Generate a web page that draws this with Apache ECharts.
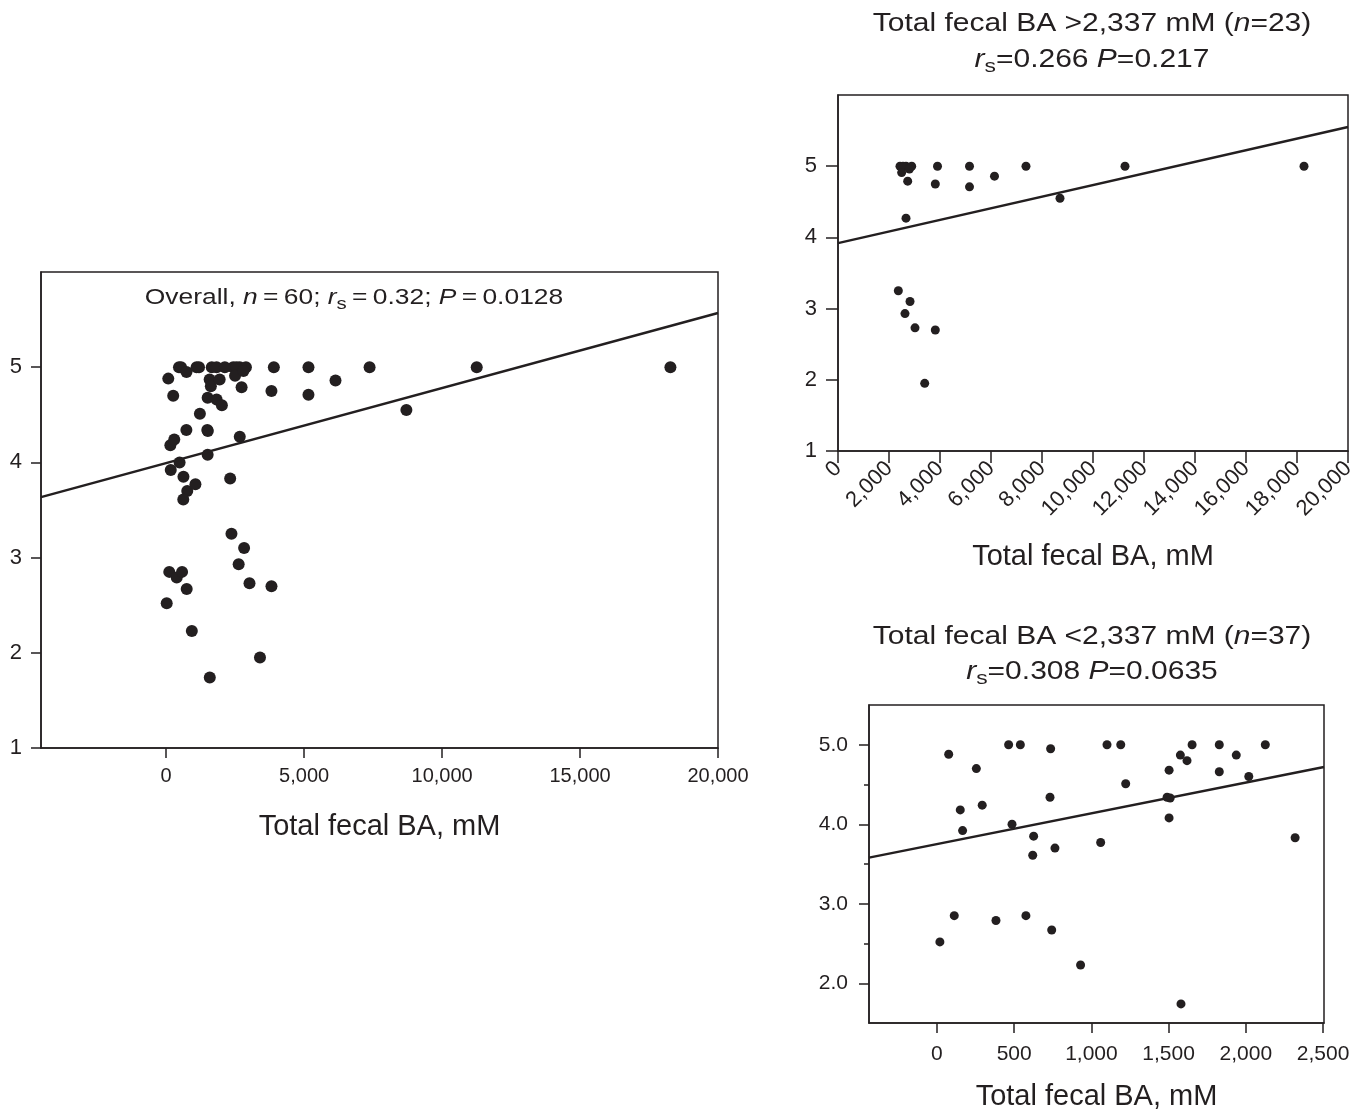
<!DOCTYPE html>
<html>
<head>
<meta charset="utf-8">
<script src="https://cdn.jsdelivr.net/npm/echarts@6/dist/echarts.min.js"></script>
<style>
  html, body { margin: 0; padding: 0; background: #fff; }
  #container { width: 1370px; height: 1115px; }
</style>
</head>
<body>
<div id="container"></div>
<script>
// fecal BA > 2,337 mM (n = 23)
var highX = [2431, 2667, 2890, 2550, 2497, 2733, 3902, 5157, 6137, 7372, 3816, 5157, 8706, 2667, 11255, 18275, 2366, 2824, 2627, 3020, 3816, 3400, 2800];
var highY = [5.0, 5.0, 5.0, 5.0, 4.91, 4.79, 5.0, 5.0, 4.86, 5.0, 4.75, 4.71, 4.55, 4.27, 5.0, 5.0, 3.25, 3.10, 2.93, 2.73, 2.70, 1.95, 4.96];
// fecal BA < 2,337 mM (n = 37)
var lowX = [76, 255, 464, 540, 736, 151, 293, 732, 166, 486, 626, 764, 620, 1101, 1190, 1652, 1828, 2126, 1576, 1619, 1938, 1222, 1503, 1828, 2019, 1490, 1503, 1060, 2319, 112, 19, 382, 576, 743, 930, 1580, 1510];
var lowY = [4.88, 4.70, 5.0, 5.0, 4.95, 4.18, 4.24, 4.34, 3.92, 4.0, 3.85, 3.70, 3.61, 5.0, 5.0, 5.0, 5.0, 5.0, 4.87, 4.80, 4.87, 4.51, 4.68, 4.66, 4.60, 4.34, 4.08, 3.77, 3.83, 2.85, 2.52, 2.79, 2.85, 2.67, 2.23, 1.74, 4.33];

// fitted lines, [x, y] at both ends of each panel
var fitAll = [[-4537, 3.635], [20000, 5.57]];
var fitHigh = [[0, 3.92], [20000, 5.55]];
var fitLow = [[-440, 3.58], [2506, 4.72]];

var ticksAllX = [0, 5000, 10000, 15000, 20000];
var ticksY = [1, 2, 3, 4, 5];
var ticksLowX = [0, 500, 1000, 1500, 2000, 2500];
var ticksLowY = [2, 3, 4, 5];
var minorLowY = [2.5, 3.5, 4.5];

var allX = highX.concat(lowX);
var allY = highY.concat(lowY);

function pairs(xs, ys) {
    return xs.map(function (x, i) { return [x, ys[i]]; });
}

var ink = '#231f20';
var font = '"Liberation Sans", Arial, sans-serif';

var dom = document.getElementById('container');
var chart = echarts.init(dom, null, { renderer: 'canvas' });

function thousands(v) {
    return echarts.format.addCommas(v);
}

function xAxisOf(idx, min, max, ticks, o) {
    var ax = {
        gridIndex: idx,
        type: 'value',
        min: min,
        max: max,
        name: 'Total fecal BA, mM',
        nameLocation: 'middle',
        nameGap: o.gap,
        nameTextStyle: { color: ink, fontSize: 29, fontFamily: font },
        axisLine: { show: true, onZero: false, lineStyle: { color: ink, width: 1.5 } },
        axisTick: { show: true, inside: false, length: o.tick, lineStyle: { color: ink, width: 1.5 } },
        axisLabel: { color: ink, fontSize: o.size, fontFamily: font, margin: o.margin, rotate: o.rotate || 0, formatter: thousands },
        splitLine: { show: false }
    };
    if (o.interval) {
        ax.interval = o.interval;
    } else {
        ax.axisTick.customValues = ticks;
        ax.axisLabel.customValues = ticks;
    }
    return ax;
}

function yAxisOf(idx, min, max, ticks, o) {
    return {
        gridIndex: idx,
        type: 'value',
        position: 'left',
        min: min,
        max: max,
        axisLine: { show: true, onZero: false, lineStyle: { color: ink, width: 1.5 } },
        axisTick: { show: true, inside: false, length: o.tick, customValues: ticks, lineStyle: { color: ink, width: 1.5 } },
        axisLabel: {
            color: ink, fontSize: o.size, fontFamily: font, margin: o.margin, customValues: ticks,
            formatter: o.fmt
        },
        splitLine: { show: false }
    };
}

function dots(idx, data, size) {
    return {
        type: 'scatter',
        xAxisIndex: idx,
        yAxisIndex: idx,
        data: data,
        symbolSize: size,
        itemStyle: { color: ink, opacity: 1 },
        silent: true,
        z: 3
    };
}

function fit(idx, data) {
    return {
        type: 'line',
        xAxisIndex: idx,
        yAxisIndex: idx,
        data: data,
        symbol: 'none',
        lineStyle: { color: ink, width: 2.5 },
        silent: true,
        z: 4
    };
}

var rich = {
    i: { fontStyle: 'italic', fontSize: 25, fontFamily: font, fill: ink },
    s: { fontSize: 19, fontFamily: font, fill: ink, padding: [14, 0, 0, 0] }
};
var richSmall = {
    i: { fontStyle: 'italic', fontSize: 22, fontFamily: font, fill: ink },
    s: { fontSize: 17, fontFamily: font, fill: ink, padding: [12, 0, 0, 0] }
};

function label(x, y, text, size, r) {
    return {
        type: 'text',
        x: x,
        y: y,
        scaleX: 1.2,
        style: {
            text: text,
            fill: ink,
            fontSize: size,
            fontFamily: font,
            align: 'center',
            verticalAlign: 'middle',
            rich: r
        },
        z: 10
    };
}

var gridBox = { show: true, borderColor: ink, borderWidth: 1.5, outerBoundsMode: 'none', containLabel: false };

var option = {
    backgroundColor: '#fff',
    animation: false,
    grid: [
        Object.assign({ left: 41, top: 272, width: 677, height: 476 }, gridBox),
        Object.assign({ left: 838, top: 95, width: 510, height: 356 }, gridBox),
        Object.assign({ left: 869, top: 705, width: 455, height: 318 }, gridBox)
    ],
    xAxis: [
        xAxisOf(0, -4537, 20000, ticksAllX, { gap: 64, tick: 10, size: 20, margin: 18 }),
        xAxisOf(1, 0, 20000, null, { gap: 91, tick: 12, size: 22, margin: 14, rotate: 45, interval: 2000 }),
        xAxisOf(2, -440, 2506, ticksLowX, { gap: 59, tick: 10, size: 21, margin: 21 })
    ],
    yAxis: [
        yAxisOf(0, 1, 6, ticksY, { tick: 10, size: 22, margin: 19 }),
        yAxisOf(1, 1, 6, ticksY, { tick: 12, size: 22, margin: 21 }),
        yAxisOf(2, 1.5, 5.5, ticksLowY, { tick: 10, size: 21, margin: 21, fmt: function (v) { return v.toFixed(1); } }),
        {
            // short minor ticks between the labelled ones
            gridIndex: 2,
            type: 'value',
            position: 'left',
            offset: 0,
            min: 1.5,
            max: 5.5,
            axisLine: { show: false, onZero: false },
            axisTick: { show: true, inside: false, length: 5, customValues: minorLowY, lineStyle: { color: ink, width: 1.5 } },
            axisLabel: { show: false },
            splitLine: { show: false }
        }
    ],
    series: [
        dots(0, pairs(allX, allY), 12),
        fit(0, fitAll),
        dots(1, pairs(highX, highY), 9),
        fit(1, fitHigh),
        dots(2, pairs(lowX, lowY), 9),
        fit(2, fitLow)
    ],
    graphic: [
        label(354, 298, 'Overall, {i|n}\u2009=\u200960; {i|r}{s|s}\u2009=\u20090.32; {i|P}\u2009=\u20090.0128', 22, richSmall),
        label(1092, 24, 'Total fecal BA >2,337 mM ({i|n}=23)', 25, rich),
        label(1092, 60, '{i|r}{s|s}=0.266 {i|P}=0.217', 25, rich),
        label(1092, 637, 'Total fecal BA <2,337 mM ({i|n}=37)', 25, rich),
        label(1092, 672, '{i|r}{s|s}=0.308 {i|P}=0.0635', 25, rich)
    ]
};

chart.setOption(option);
window.addEventListener('resize', chart.resize);
</script>
</body>
</html>
